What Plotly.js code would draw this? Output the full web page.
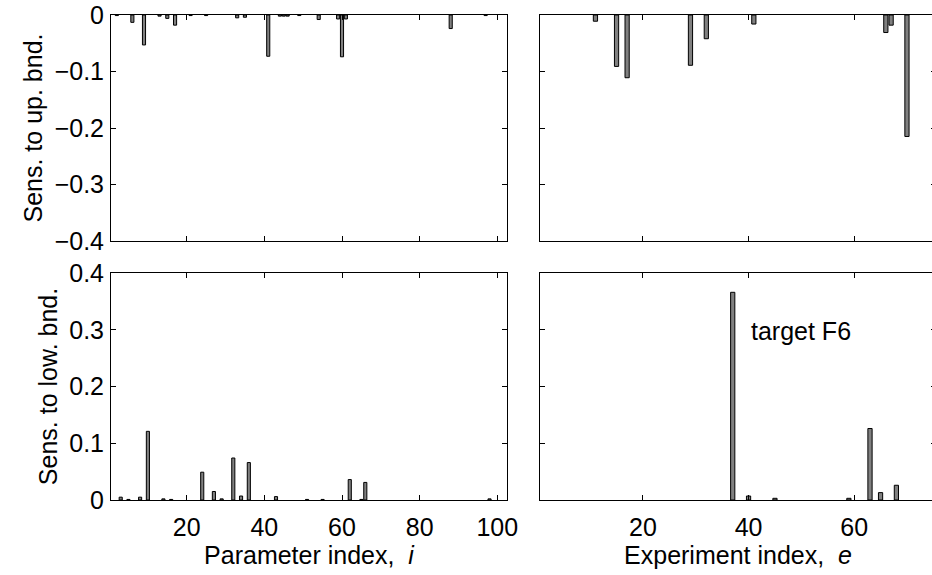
<!DOCTYPE html>
<html>
<head>
<meta charset="utf-8">
<script src="https://cdn.plot.ly/plotly-3.0.1.min.js"></script>
<style>
html,body{margin:0;padding:0;overflow:hidden;background:#fff;width:932px;height:575px;}
#chart{width:940px;height:575px;}
</style>
</head>
<body>
<div id="chart"></div>
<script>
// Sensitivity to upper bound, per parameter index i
const upParamIdx = [2, 6, 9, 13, 15, 17, 21, 25, 33, 35, 41, 44, 45, 46, 49, 54, 59, 60, 61, 88, 97];
const upParamVal = [-0.001, -0.013, -0.053, -0.002, -0.006, -0.018, -0.001, -0.001, -0.005, -0.004, -0.073, -0.002, -0.002, -0.002, -0.001, -0.008, -0.007, -0.074, -0.007, -0.024, -0.001];
// Sensitivity to upper bound, per experiment index e
const upExpIdx = [11, 15, 17, 29, 32, 41, 66, 67, 70];
const upExpVal = [-0.011, -0.091, -0.111, -0.089, -0.042, -0.016, -0.031, -0.018, -0.215];
// Sensitivity to lower bound, per parameter index i
const lowParamIdx = [3, 5, 8, 10, 14, 16, 24, 27, 29, 32, 34, 36, 43, 51, 55, 62, 65, 66, 98];
const lowParamVal = [0.005, 0.001, 0.005, 0.121, 0.002, 0.001, 0.049, 0.015, 0.002, 0.074, 0.007, 0.066, 0.006, 0.001, 0.001, 0.036, 0.001, 0.031, 0.002];
// Sensitivity to lower bound, per experiment index e
const lowExpIdx = [37, 40, 45, 59, 63, 65, 68];
const lowExpVal = [0.366, 0.007, 0.003, 0.003, 0.126, 0.013, 0.026];

const paramTicks = [20, 40, 60, 80, 100];
const expTicks = [20, 40, 60];
const upTicks = [0, -0.1, -0.2, -0.3, -0.4];
const lowTicks = [0, 0.1, 0.2, 0.3, 0.4];

const FONT = 'Liberation Sans, Arial, Helvetica, sans-serif';
const FS = 25;
const barStyle = {color: '#808080', line: {color: '#000', width: 1}};

function bar(x, y, xa, ya) {
  return {type: 'bar', x: x, y: y, xaxis: xa, yaxis: ya, width: 0.8,
          marker: barStyle, showlegend: false, hoverinfo: 'x+y'};
}

const traces = [
  bar(upParamIdx, upParamVal, 'x', 'y'),
  bar(upExpIdx, upExpVal, 'x2', 'y2'),
  bar(lowParamIdx, lowParamVal, 'x3', 'y3'),
  bar(lowExpIdx, lowExpVal, 'x4', 'y4')
];

const W = 940, H = 575;
const dL = [111 / W, 507 / W];
const dR = [540 / W, 936 / W];
const dT = [(H - 241) / H, (H - 15) / H];
const dB = [(H - 500) / H, (H - 273) / H];

function xax(domain, range, ticks, showLabels, anchor, title) {
  const a = {domain: domain, range: range, anchor: anchor,
    tickmode: 'array', tickvals: ticks, ticktext: ticks.map(String),
    showticklabels: showLabels, ticks: 'inside', ticklen: 5, tickcolor: '#000', tickwidth: 1,
    showline: true, linecolor: '#000', linewidth: 1, mirror: 'ticks',
    showgrid: false, zeroline: false, fixedrange: true, ticklabelstandoff: 5,
    tickfont: {family: FONT, size: FS, color: '#000'}};
  if (title) a.title = {text: title, font: {family: FONT, size: FS, color: '#000'}, standoff: 5};
  return a;
}
function yax(domain, range, ticks, showLabels, anchor, title) {
  const a = {domain: domain, range: range, anchor: anchor,
    tickmode: 'array', tickvals: ticks,
    showticklabels: showLabels, ticks: 'inside', ticklen: 5, tickcolor: '#000', tickwidth: 1,
    showline: true, linecolor: '#000', linewidth: 1, mirror: 'ticks',
    showgrid: false, zeroline: false, fixedrange: true, ticklabelstandoff: 1,
    tickfont: {family: FONT, size: FS, color: '#000'}};
  if (showLabels) a.ticktext = ticks.map(v => v === 0 ? '0' : (v < 0 ? '\u2212' + Math.abs(v).toFixed(1) : v.toFixed(1)));
  if (title) a.title = {text: title, font: {family: FONT, size: FS, color: '#000'}, standoff: 4};
  return a;
}

const layout = {
  width: W, height: H,
  margin: {l: 0, r: 0, t: 0, b: 0, pad: 0},
  paper_bgcolor: '#fff', plot_bgcolor: '#fff',
  bargap: 0, barmode: 'overlay',
  font: {family: FONT, size: FS, color: '#000'},
  xaxis: xax(dL, [0.5, 102.5], paramTicks, false, 'y'),
  yaxis: yax(dT, [-0.4, 0], upTicks, true, 'x', 'Sens. to up. bnd.'),
  xaxis2: xax(dR, [0.5, 75.5], expTicks, false, 'y2'),
  yaxis2: yax(dT, [-0.4, 0], upTicks, false, 'x2'),
  xaxis3: xax(dL, [0.5, 102.5], paramTicks, true, 'y3', 'Parameter index,\u00a0 <i>i</i>'),
  yaxis3: yax(dB, [0, 0.4], lowTicks, true, 'x3', 'Sens. to low. bnd.'),
  xaxis4: xax(dR, [0.5, 75.5], expTicks, true, 'y4', 'Experiment index,\u00a0 <i>e</i>'),
  yaxis4: yax(dB, [0, 0.4], lowTicks, false, 'x4'),
  annotations: [{
    xref: 'x4', yref: 'y4', x: 40.0, y: 0.297, xanchor: 'left', yanchor: 'middle',
    text: 'target F6', showarrow: false,
    font: {family: FONT, size: FS, color: '#000'}
  }]
};

Plotly.newPlot('chart', traces, layout, {staticPlot: true, displayModeBar: false});
</script>
</body>
</html>
